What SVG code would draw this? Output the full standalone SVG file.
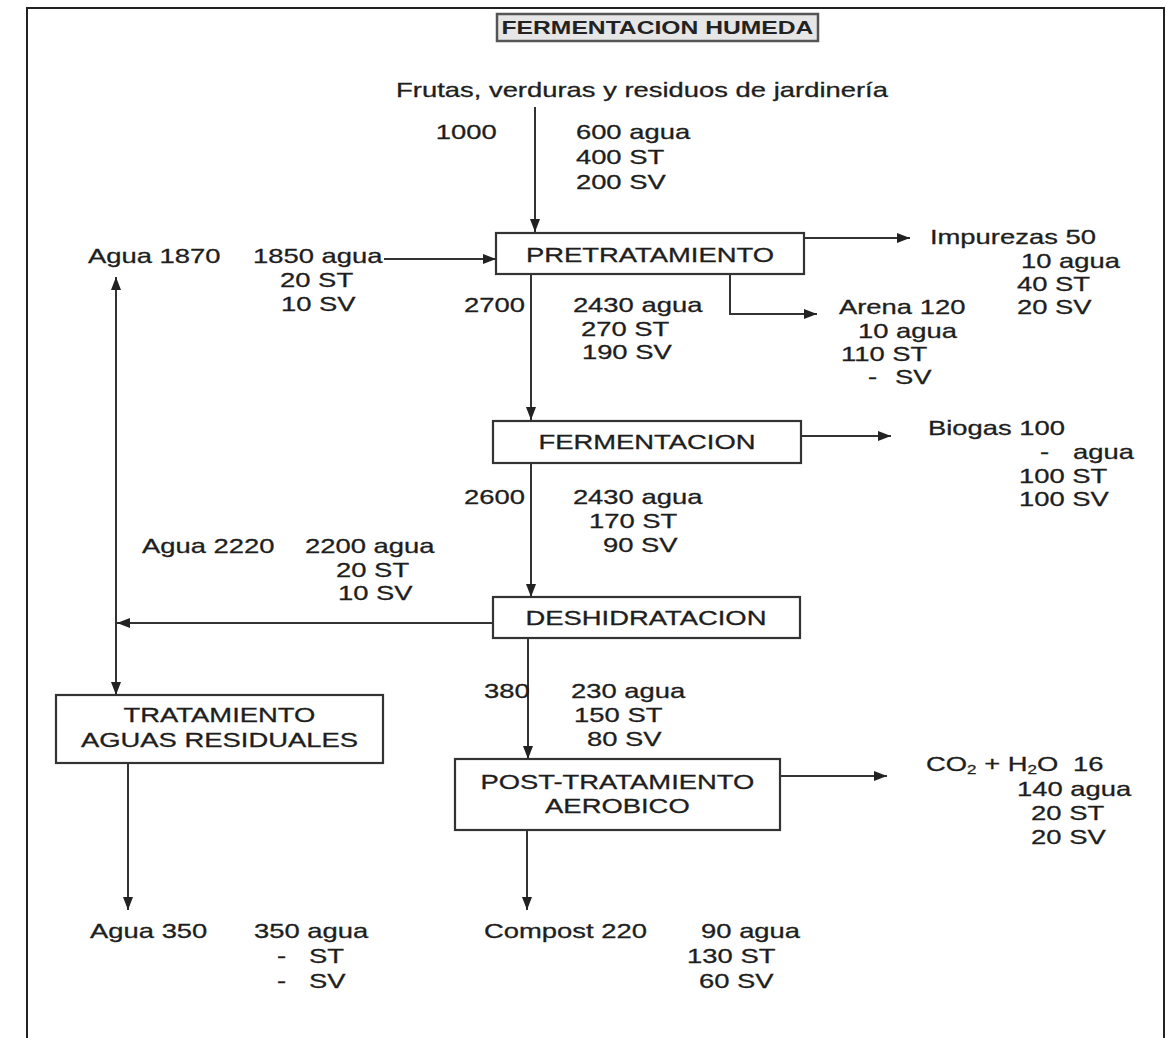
<svg xmlns="http://www.w3.org/2000/svg" width="1167" height="1038" viewBox="0 0 1167 1038">
<defs>
<style>
.frame{fill:none;stroke:#222;stroke-width:2}
.box{fill:#fff;stroke:#333;stroke-width:2.2}
.tbox{fill:#e6e6e6;stroke:#555;stroke-width:2.5}
.c{fill:none;stroke:#333;stroke-width:2}
.t{font-family:"Liberation Sans",Arial,sans-serif;font-size:21px;fill:#1e1e1e;stroke:#1e1e1e;stroke-width:0.3}
.m{text-anchor:middle}
.sub{font-size:13px}
.title{font-family:"Liberation Sans",Arial,sans-serif;font-size:18px;font-weight:bold;fill:#222;text-anchor:middle}
</style>
<marker id="ah" viewBox="0 0 13 10" refX="13" refY="5" markerWidth="13" markerHeight="10" markerUnits="userSpaceOnUse" orient="auto-start-reverse">
<path d="M0,0 L13,5 L0,10 z" fill="#222"/>
</marker>
</defs>
<rect width="1167" height="1038" fill="#fff"/>
<path class="frame" d="M27,1038 V8 H1164 V1038"/>

<g id="connectors">
<line class="c" x1="535" y1="107" x2="535" y2="232" marker-end="url(#ah)"/>
<line class="c" x1="384" y1="259" x2="496" y2="259" marker-end="url(#ah)"/>
<line class="c" x1="531" y1="274" x2="531" y2="420" marker-end="url(#ah)"/>
<line class="c" x1="804" y1="238" x2="910" y2="238" marker-end="url(#ah)"/>
<path class="c" d="M730,274 V314 H817" marker-end="url(#ah)"/>
<line class="c" x1="801" y1="436" x2="891" y2="436" marker-end="url(#ah)"/>
<line class="c" x1="531" y1="463" x2="531" y2="597" marker-end="url(#ah)"/>
<line class="c" x1="492" y1="623" x2="117" y2="623" marker-end="url(#ah)"/>
<line class="c" x1="116" y1="277" x2="116" y2="695" marker-start="url(#ah)" marker-end="url(#ah)"/>
<line class="c" x1="528" y1="638" x2="528" y2="759" marker-end="url(#ah)"/>
<line class="c" x1="780" y1="776" x2="887" y2="776" marker-end="url(#ah)"/>
<line class="c" x1="128" y1="763" x2="128" y2="910" marker-end="url(#ah)"/>
<line class="c" x1="527" y1="830" x2="527" y2="910" marker-end="url(#ah)"/>
</g>

<g id="title">
<rect class="tbox" x="497" y="14" width="321" height="27"/>
<g transform="scale(1.37,1)"><text class="title" x="479.9" y="34">FERMENTACION HUMEDA</text></g>
</g>

<g id="pretratamiento">
<rect class="box" x="496" y="233" width="308" height="41"/>
<g transform="scale(1.305,1)"><text class="t m" x="498.1" y="262">PRETRATAMIENTO</text></g>
</g>

<g id="fermentacion">
<rect class="box" x="493" y="421" width="308" height="42"/>
<g transform="scale(1.305,1)"><text class="t m" x="495.8" y="449">FERMENTACION</text></g>
</g>

<g id="deshidratacion">
<rect class="box" x="493" y="597" width="307" height="41"/>
<g transform="scale(1.305,1)"><text class="t m" x="495" y="625">DESHIDRATACION</text></g>
</g>

<g id="tratamiento">
<rect class="box" x="56" y="695" width="327" height="68"/>
<g transform="scale(1.305,1)"><text class="t m" x="168.2" y="722">TRATAMIENTO</text><text class="t m" x="168.2" y="747">AGUAS RESIDUALES</text></g>
</g>

<g id="post-tratamiento">
<rect class="box" x="455" y="759" width="325" height="71"/>
<g transform="scale(1.305,1)"><text class="t m" x="473.1" y="789">POST-TRATAMIENTO</text><text class="t m" x="473.1" y="813">AEROBICO</text></g>
</g>

<g id="labels" transform="scale(1.305,1)">
<g id="frutas">
<text class="t" x="303.5" y="97">Frutas, verduras y residuos de jardinería</text>
<text class="t" x="334" y="139">1000</text>
<text class="t" x="441.3" y="139">600 agua</text>
<text class="t" x="441.3" y="164">400 ST</text>
<text class="t" x="441.3" y="189">200 SV</text>
</g>
<g id="agua-1870">
<text class="t" x="67.4" y="263">Agua 1870</text>
<text class="t" x="193.9" y="263">1850 agua</text>
<text class="t" x="214.6" y="287">20 ST</text>
<text class="t" x="215.3" y="311">10 SV</text>
</g>
<g id="flujo-2700">
<text class="t" x="355.6" y="312">2700</text>
<text class="t" x="439" y="312">2430 agua</text>
<text class="t" x="445.2" y="336">270 ST</text>
<text class="t" x="445.9" y="359">190 SV</text>
</g>
<g id="impurezas">
<text class="t" x="712.6" y="244">Impurezas 50</text>
<text class="t" x="782.4" y="268">10 agua</text>
<text class="t" x="779.3" y="291">40 ST</text>
<text class="t" x="779.3" y="314">20 SV</text>
</g>
<g id="arena">
<text class="t" x="642.9" y="314">Arena 120</text>
<text class="t" x="657.5" y="338">10 agua</text>
<text class="t" x="644.5" y="361">110 ST</text>
<text class="t" y="384"><tspan x="665.1">-</tspan><tspan x="685.8">SV</tspan></text>
</g>
<g id="biogas">
<text class="t" x="711.1" y="435">Biogas 100</text>
<text class="t" y="459"><tspan x="796.9">-</tspan><tspan x="822.2">agua</tspan></text>
<text class="t" x="780.8" y="483">100 ST</text>
<text class="t" x="780.8" y="506">100 SV</text>
</g>
<g id="flujo-2600">
<text class="t" x="355.6" y="504">2600</text>
<text class="t" x="439" y="504">2430 agua</text>
<text class="t" x="451.3" y="528">170 ST</text>
<text class="t" x="462" y="552">90 SV</text>
</g>
<g id="agua-2220">
<text class="t" x="108.8" y="553">Agua 2220</text>
<text class="t" x="233.7" y="553">2200 agua</text>
<text class="t" x="257.5" y="577">20 ST</text>
<text class="t" x="259" y="600">10 SV</text>
</g>
<g id="flujo-380">
<text class="t" x="370.9" y="698">380</text>
<text class="t" x="437.5" y="698">230 agua</text>
<text class="t" x="439.9" y="722">150 ST</text>
<text class="t" x="449.8" y="746">80 SV</text>
</g>
<g id="co2">
<text class="t" x="709.6" y="771">CO<tspan class="sub" dy="3">2</tspan><tspan dy="-3"> + H</tspan><tspan class="sub" dy="3">2</tspan><tspan dy="-3">O</tspan><tspan x="822.2">16</tspan></text>
<text class="t" x="779.3" y="796">140 agua</text>
<text class="t" x="790.1" y="820">20 ST</text>
<text class="t" x="790.1" y="844">20 SV</text>
</g>
<g id="agua-350">
<text class="t" x="69" y="938">Agua 350</text>
<text class="t" x="194.6" y="938">350 agua</text>
<text class="t" y="963"><tspan x="212.3">-</tspan><tspan x="236.7">ST</tspan></text>
<text class="t" y="988"><tspan x="212.3">-</tspan><tspan x="236.7">SV</tspan></text>
</g>
<g id="compost">
<text class="t" x="370.9" y="938">Compost 220</text>
<text class="t" x="537.2" y="938">90 agua</text>
<text class="t" x="526.5" y="963">130 ST</text>
<text class="t" x="535.6" y="988">60 SV</text>
</g>
</g>
</svg>
